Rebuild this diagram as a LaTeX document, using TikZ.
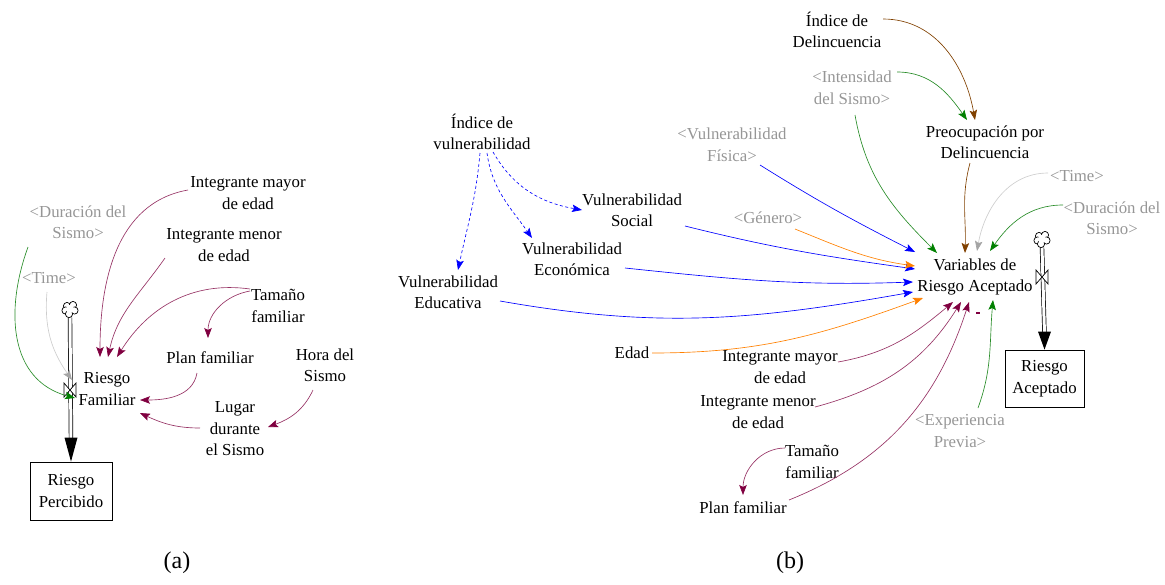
\documentclass[tikz,border=0pt]{standalone}
\usepackage{fontspec}
\setmainfont{Liberation Serif}
\newfontfamily\dfont{Liberation Serif}
\usetikzlibrary{arrows.meta}
\definecolor{mar}{RGB}{128,0,64}
\definecolor{marl}{RGB}{150,50,100}
\definecolor{gtxt}{RGB}{150,150,150}
\definecolor{tgray}{RGB}{205,205,205}
\definecolor{dgreen}{RGB}{0,128,0}
\definecolor{lgreen}{RGB}{40,140,40}
\definecolor{orng}{RGB}{255,128,0}
\definecolor{brwn}{RGB}{128,64,0}
\definecolor{blu}{RGB}{0,0,255}
\newcommand{\drawcloud}[1]{%
  \foreach \cx/\cy in {-3/3,3/4,4.5/-1.5,-4.5/-1.5,-1/-5}{\draw[line width=0.7pt,fill=white] ([shift={(\cx,\cy)}]#1) circle (3.6);}
  \fill[white] (#1) circle (4.2);}
\begin{document}
\begin{tikzpicture}[x=1pt,y=1pt,
  txt/.style={align=center,inner sep=0pt,font=\dfont\fontsize{16.8}{21.5}\selectfont},
  gtx/.style={txt,text=gtxt},
  tipm/.style={-{Stealth[length=10pt,width=7.5pt,inset=2pt,color=#1]}},
  myconn/.style={line width=0.65pt,tipm=#1},
  amar/.style={myconn=mar,draw=marl},
  ablu/.style={myconn=blu,draw=blu},
  abld/.style={myconn=blu,draw=blu,dash pattern=on 3pt off 2.5pt},
  aorg/.style={myconn=orng,draw=orng},
  agrn/.style={myconn=dgreen,draw=lgreen},
  abrw/.style={myconn=brwn,draw=brwn},
  atim/.style={myconn=tgray!80!black,draw=tgray},
  pipe/.style={draw=black,double=white,double distance=3pt,line width=0.7pt},
  cld/.style={minimum width=15pt,minimum height=17pt,inner sep=0pt}
]
\useasboundingbox (0,0) rectangle (1165,-584);

% ---------------- panel (a) ----------------
\node[gtx] (dura) at (78,-222) {<Duración del\\Sismo>};
\node[gtx] (timea) at (49,-278) {<Time>};
\node[txt] (rf) at (107,-389) {Riesgo\\Familiar};
\node[txt,draw,line width=0.8pt,minimum width=82pt,minimum height=58pt] (rp) at (71,-491) {Riesgo\\Percibido};
\node[txt] (imay) at (248,-193) {Integrante mayor\\de edad};
\node[txt] (imen) at (224,-245) {Integrante menor\\de edad};
\node[txt] (tam) at (278,-306) {Tamaño\\familiar};
\node[txt] (plan) at (210,-358) {Plan familiar};
\node[txt] (hora) at (325,-365) {Hora del\\Sismo};
\node[txt] (lugar) at (235,-429) {Lugar\\durante\\el Sismo};
\node[cld] (clda) at (70,-309) {};
\coordinate (va) at (70,-390);

\draw[pipe] (clda.south) -- ([yshift=22pt]rp.north);
\drawcloud{clda}
\fill (rp.north) -- ++(-6.5,24) -- ++(13,0) -- cycle;
\draw[fill=white,line width=0.7pt] ([shift={(-6,-7)}]va) -- ([shift={(6,7)}]va) -- ([shift={(6,-7)}]va) -- ([shift={(-6,7)}]va) -- cycle;

\draw[amar] ([shift={(-60,3)}]imay.center) to[out=190,in=90] ([shift={(-7,32)}]rf.center);
\draw[amar] ([shift={(-59,-13)}]imen.center) to[out=235,in=78] ([shift={(1,32)}]rf.center);
\draw[amar] ([shift={(-28,17)}]tam.center) to[out=172,in=58] ([shift={(10,32)}]rf.center);
\draw[amar] ([shift={(-28,15)}]tam.center) to[out=190,in=90] ([shift={(-2,20)}]plan.center);
\draw[amar] ([shift={(-13,-15)}]plan.center) to[out=260,in=0] ([shift={(33,-11)}]rf.center);
\draw[amar] ([shift={(-12,-25)}]hora.center) to[out=245,in=20] ([shift={(33,2)}]lugar.center);
\draw[amar] ([shift={(-35,1)}]lugar.center) to[out=180,in=-25] ([shift={(33,-24)}]rf.center);
\draw[agrn] ([shift={(-50,-25)}]dura.center) to[out=250,in=165,looseness=1.1] ([shift={(5,-8)}]va);
\draw[atim] ([shift={(-2,-14)}]timea.center) to[out=265,in=125] ([shift={(2,10)}]va);

\node[txt,font=\dfont\fontsize{24}{28}\selectfont] (la) at (177,-563) {(a)};

% ---------------- panel (b) ----------------
\node[txt] (ivul) at (482,-132) {Índice de\\vulnerabilidad};
\node[txt] (vsoc) at (632,-210) {Vulnerabilidad\\Social};
\node[txt] (veco) at (572,-259) {Vulnerabilidad\\Económica};
\node[txt] (vedu) at (448,-292) {Vulnerabilidad\\Educativa};
\node[gtx] (vfis) at (732,-145) {<Vulnerabilidad\\Física>};
\node[gtx] (gen) at (768,-218) {<Género>};
\node[txt] (edad) at (632,-353) {Edad};
\node[txt] (idel) at (837,-30) {Índice de\\Delincuencia};
\node[gtx] (inten) at (852,-88) {<Intensidad\\del Sismo>};
\node[txt] (preo) at (985,-142) {Preocupación por\\Delincuencia};
\node[gtx] (timeb) at (1077,-176) {<Time>};
\node[gtx] (durb) at (1112,-218) {<Duración del\\Sismo>};
\node[txt] (vra) at (975,-277) {Variables de\\Riesgo Aceptado};
\node[txt,draw,line width=0.8pt,minimum width=79pt,minimum height=57pt] (ra) at (1044.5,-378.5) {Riesgo\\Aceptado};
\node[gtx] (exp) at (960,-431) {<Experiencia\\Previa>};
\node[txt] (imayb) at (780,-367) {Integrante mayor\\de edad};
\node[txt] (imenb) at (758,-412) {Integrante menor\\de edad};
\node[txt] (tamb) at (812,-462) {Tamaño\\familiar};
\node[txt] (planb) at (743,-508) {Plan familiar};
\node[fill=mar,minimum width=4pt,minimum height=2pt,inner sep=0pt] (minus) at (978,-313) {};
\node[cld] (cldb) at (1042,-239) {};
\coordinate (vb) at (1042,-277);

\draw[pipe] (cldb.south) -- ([yshift=16pt]ra.north);
\drawcloud{cldb}
\fill (ra.north) -- ++(-6.5,18) -- ++(13,0) -- cycle;
\draw[fill=white,line width=0.7pt] ([shift={(-6,-7)}]vb) -- ([shift={(6,7)}]vb) -- ([shift={(6,-7)}]vb) -- ([shift={(-6,7)}]vb) -- cycle;

\draw[abld] ([shift={(11,-20)}]ivul.center) to[out=-60,in=170] ([shift={(-50,0)}]vsoc.center);
\draw[abld] ([shift={(5,-21)}]ivul.center) to[out=-82,in=125] ([shift={(-40,21)}]veco.center);
\draw[abld] ([shift={(-2,-21)}]ivul.center) to[out=-95,in=78] ([shift={(10,22)}]vedu.center);

\draw[ablu] ([shift={(28,-20)}]vfis.center) to[out=-32,in=153] ([shift={(-60,25)}]vra.center);
\draw[ablu] ([shift={(53,-16)}]vsoc.center) to[out=-14,in=172] ([shift={(-60,8)}]vra.center);
\draw[aorg] ([shift={(27,-11)}]gen.center) to[out=-22,in=172] ([shift={(-60,11)}]vra.center);
\draw[ablu] ([shift={(53,-9)}]veco.center) to[out=-6,in=182] ([shift={(-62,-5)}]vra.center);
\draw[ablu] ([shift={(52,-9)}]vedu.center) to[out=-10,in=190] ([shift={(-62,-15)}]vra.center);
\draw[aorg] ([shift={(20,0)}]edad.center) to[out=0,in=200] ([shift={(-52,-21)}]vra.center);

\draw[abrw] ([shift={(46,11)}]idel.center) to[out=0,in=100] ([shift={(-10,22)}]preo.center);
\draw[agrn] ([shift={(45,16)}]inten.center) to[out=0,in=125] ([shift={(-18,22)}]preo.center);
\draw[agrn] ([shift={(3,-27)}]inten.center) to[out=-80,in=135] ([shift={(-38,24)}]vra.center);
\draw[abrw] ([shift={(-15,-21)}]preo.center) to[out=-105,in=88] ([shift={(-10,24)}]vra.center);
\draw[atim] ([shift={(-29,3)}]timeb.center) to[out=180,in=80] ([shift={(2,26)}]vra.center);
\draw[agrn] ([shift={(-49,13)}]durb.center) to[out=180,in=55] ([shift={(15,26)}]vra.center);
\draw[agrn] ([shift={(18,23)}]exp.center) to[out=70,in=-95] ([shift={(18,-23)}]vra.center);

\draw[amar] ([shift={(58,5)}]imayb.center) to[out=10,in=220] ([shift={(-22,-25)}]vra.center);
\draw[amar] ([shift={(57,5)}]imenb.center) to[out=15,in=238] ([shift={(-14,-25)}]vra.center);
\draw[amar] ([shift={(46,8)}]planb.center) to[out=22,in=252] ([shift={(-6,-25)}]vra.center);
\draw[amar] ([shift={(-27,14)}]tamb.center) to[out=180,in=90] ([shift={(0,13)}]planb.center);

\node[txt,font=\dfont\fontsize{24}{28}\selectfont] (lb) at (790,-563) {(b)};
\end{tikzpicture}
\end{document}
